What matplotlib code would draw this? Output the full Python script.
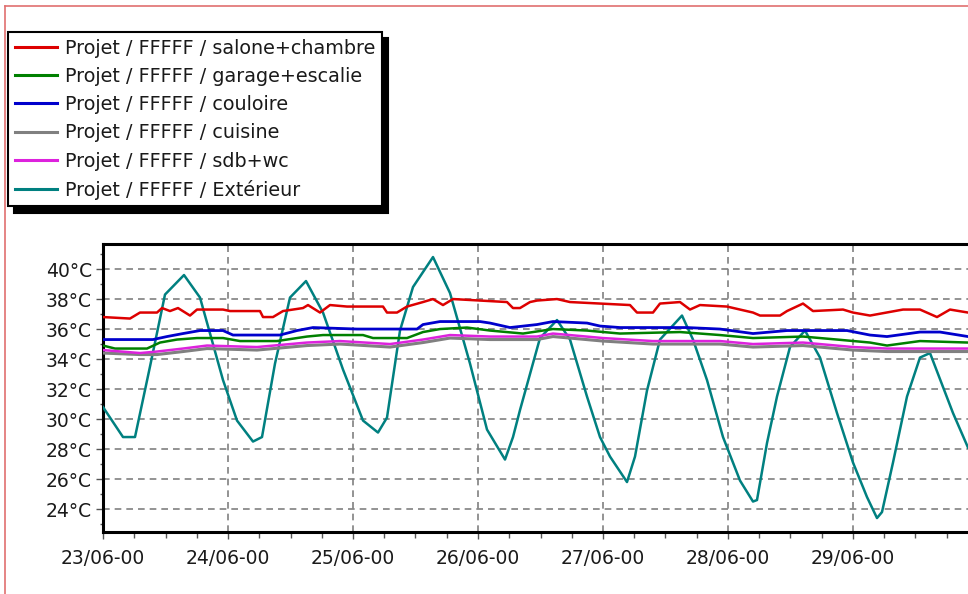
import matplotlib
matplotlib.use("Agg")
import matplotlib.pyplot as plt
from matplotlib.lines import Line2D
from matplotlib.ticker import MultipleLocator

# Temps en jours depuis le 23/06-00 00h, températures en °C
ext_t = [0.0, 0.16, 0.256, 0.376, 0.496, 0.648, 0.776, 0.96, 1.072, 1.2, 1.272, 1.376,
         1.496, 1.624, 1.76, 1.92, 2.08, 2.2, 2.272, 2.376, 2.48, 2.64, 2.776, 2.936,
         3.072, 3.216, 3.28, 3.336, 3.496, 3.632, 3.736, 3.872, 3.976, 4.056, 4.192,
         4.256, 4.352, 4.456, 4.632, 4.72, 4.832, 4.96, 5.096, 5.2, 5.232, 5.312, 5.392,
         5.496, 5.616, 5.736, 5.872, 6.0, 6.112, 6.192, 6.232, 6.32, 6.432, 6.536, 6.616,
         6.8, 6.92]
ext_v = [30.8, 28.8, 28.8, 33.5, 38.3, 39.6, 38.1, 32.6, 29.9, 28.5, 28.8, 33.7,
         38.1, 39.2, 37.1, 33.3, 29.9, 29.1, 30.1, 35.9, 38.8, 40.8, 38.4, 33.7,
         29.3, 27.3, 28.8, 30.6, 35.4, 36.6, 35.3, 31.5, 28.8, 27.5, 25.8,
         27.5, 31.9, 35.3, 36.9, 35.3, 32.6, 28.8, 25.9, 24.5, 24.6, 28.4, 31.5,
         34.8, 35.9, 34.1, 30.4, 27.1, 24.8, 23.4, 23.8, 27.1, 31.5, 34.1, 34.4,
         30.4, 28.1]

salon_t = [0.0, 0.216, 0.296, 0.432, 0.472, 0.536, 0.6, 0.696, 0.752, 0.96, 1.016, 1.256,
           1.28, 1.36, 1.44, 1.6, 1.64, 1.736, 1.816, 1.952, 2.24, 2.272, 2.352, 2.432,
           2.56, 2.64, 2.72, 2.8, 3.016, 3.232, 3.28, 3.336, 3.416, 3.472, 3.632, 3.736,
           4.216, 4.272, 4.4, 4.456, 4.616, 4.696, 4.776, 4.992, 5.2, 5.256, 5.416, 5.472,
           5.6, 5.68, 5.92, 6.0, 6.136, 6.4, 6.536, 6.672, 6.776, 6.92]
salon_v = [36.8, 36.7, 37.1, 37.1, 37.4, 37.2, 37.4, 36.9, 37.3, 37.3, 37.2, 37.2,
           36.8, 36.8, 37.2, 37.4, 37.6, 37.1, 37.6, 37.5, 37.5, 37.1, 37.1, 37.5,
           37.8, 38.0, 37.6, 38.0, 37.9, 37.8, 37.4, 37.4, 37.8, 37.9, 38.0, 37.8,
           37.6, 37.1, 37.1, 37.7, 37.8, 37.3, 37.6, 37.5, 37.1, 36.9, 36.9, 37.2,
           37.7, 37.2, 37.3, 37.1, 36.9, 37.3, 37.3, 36.8, 37.3, 37.1]

garage_t = [0.0, 0.096, 0.352, 0.456, 0.592, 0.752, 0.96, 1.096, 1.392, 1.632, 1.76, 2.08,
            2.16, 2.432, 2.56, 2.696, 2.912, 3.096, 3.36, 3.6, 3.872, 4.136, 4.616, 4.936,
            5.2, 5.6, 5.872, 6.136, 6.272, 6.536, 6.92]
garage_v = [34.9, 34.7, 34.7, 35.1, 35.3, 35.4, 35.4, 35.2, 35.2, 35.5, 35.6, 35.6,
            35.4, 35.4, 35.8, 36.0, 36.1, 35.9, 35.7, 36.0, 35.9, 35.7, 35.8, 35.6,
            35.4, 35.5, 35.3, 35.1, 34.9, 35.2, 35.1]

couloir_t = [0.0, 0.4, 0.512, 0.64, 0.776, 0.96, 1.04, 1.416, 1.552, 1.68, 2.032, 2.512,
             2.56, 2.696, 3.016, 3.096, 3.256, 3.472, 3.6, 3.872, 3.976, 4.136, 4.672,
             4.936, 5.2, 5.472, 5.952, 6.136, 6.272, 6.536, 6.696, 6.92]
couloir_v = [35.3, 35.3, 35.5, 35.7, 35.9, 35.9, 35.6, 35.6, 35.9, 36.1, 36.0, 36.0,
             36.3, 36.5, 36.5, 36.4, 36.1, 36.3, 36.5, 36.4, 36.2, 36.1, 36.1,
             36.0, 35.7, 35.9, 35.9, 35.6, 35.5, 35.8, 35.8, 35.5]

sdb_t = [0.0, 0.296, 0.432, 0.64, 0.832, 1.232, 1.632, 1.896, 2.296, 2.56, 2.776, 3.096,
         3.472, 3.6, 4.0, 4.4, 4.936, 5.2, 5.6, 6.0, 6.272, 6.92]
sdb_v = [34.6, 34.4, 34.5, 34.7, 34.9, 34.8, 35.1, 35.2, 35.0, 35.3, 35.6, 35.5,
         35.5, 35.7, 35.4, 35.2, 35.2, 35.0, 35.1, 34.8, 34.7, 34.7]
cuisine_v = [34.4, 34.3, 34.3, 34.5, 34.7, 34.6, 34.9, 35.0, 34.8, 35.1, 35.4, 35.3,
             35.3, 35.5, 35.2, 35.0, 35.0, 34.8, 34.9, 34.6, 34.5, 34.5]

jours = ["23/06-00", "24/06-00", "25/06-00", "26/06-00", "27/06-00", "28/06-00", "29/06-00"]
temp_ticks = [24, 26, 28, 30, 32, 34, 36, 38, 40]

W, H = 968, 594
fig = plt.figure(figsize=(W / 100, H / 100), dpi=100)
plt.rcParams["font.family"] = "DejaVu Sans"

ax = fig.add_axes([103 / W, (H - 532) / H, (972 - 103) / W, (532 - 244) / H])

ax.plot(ext_t, ext_v, color="#008080", lw=1.8, zorder=3)
ax.plot(salon_t, salon_v, color="#dd0000", lw=1.8, zorder=4)
ax.plot(couloir_t, couloir_v, color="#0000cc", lw=2.0, zorder=4)
ax.plot(garage_t, garage_v, color="#008000", lw=1.8, zorder=4)
ax.plot(sdb_t, cuisine_v, color="#808080", lw=2.2, zorder=4)
ax.plot(sdb_t, sdb_v, color="#dd22dd", lw=1.8, zorder=4)

ax.set_xlim(0, (972 - 103) / 125)
ax.set_ylim(22.47, 41.67)
ax.set_xticks(range(len(jours)))
ax.set_xticklabels(jours)
ax.xaxis.set_minor_locator(MultipleLocator(0.25))
ax.set_yticks(temp_ticks)
ax.set_yticklabels([f"{t}°C" for t in temp_ticks])
ax.yaxis.set_minor_locator(MultipleLocator(1))

ax.tick_params(axis="both", which="major", labelsize=13.5, labelcolor="#1a1a1a",
               color="#555555", length=5, width=1, direction="out", pad=3)
ax.tick_params(axis="both", which="minor", color="#555555", length=4, width=1)
ax.tick_params(axis="y", which="minor", length=2)
ax.tick_params(axis="x", which="major", pad=7)

ax.grid(True, which="major", color="#808080", linestyle=(0, (4, 3)), lw=1.2)
for s in ax.spines.values():
    s.set_linewidth(2.2)
    s.set_color("black")
ax.spines["right"].set_visible(False)

# Légende façon fenêtre avec ombre noire
handles = [Line2D([], [], color=c, lw=2.2) for c in
           ["#dd0000", "#008000", "#0000cc", "#808080", "#dd22dd", "#008080"]]
noms = ["Projet / FFFFF / salone+chambre", "Projet / FFFFF / garage+escalie",
        "Projet / FFFFF / couloire", "Projet / FFFFF / cuisine",
        "Projet / FFFFF / sdb+wc", "Projet / FFFFF / Extérieur"]
leg = fig.legend(handles, noms, loc="upper left", bbox_to_anchor=(8 / W, 1 - 32 / H),
                 borderaxespad=0, fontsize=13.8, fancybox=False, framealpha=1,
                 edgecolor="black", handlelength=2.2, handletextpad=0.4,
                 labelspacing=0.48, borderpad=0.35,
                 shadow={"ox": 4.5, "oy": -4.5, "color": "black", "alpha": 1})
leg.get_frame().set_linewidth(1.5)
for t in leg.get_texts():
    t.set_color("#1a1a1a")

# Bord rouge de la fenêtre
fig.add_artist(Line2D([5 / W, 5 / W], [0, 1 - 6 / H], color="#e07070", lw=1.2))
fig.add_artist(Line2D([5 / W, 1], [1 - 6 / H, 1 - 6 / H], color="#e07070", lw=1.2))

fig.savefig("out.png", dpi=100)
